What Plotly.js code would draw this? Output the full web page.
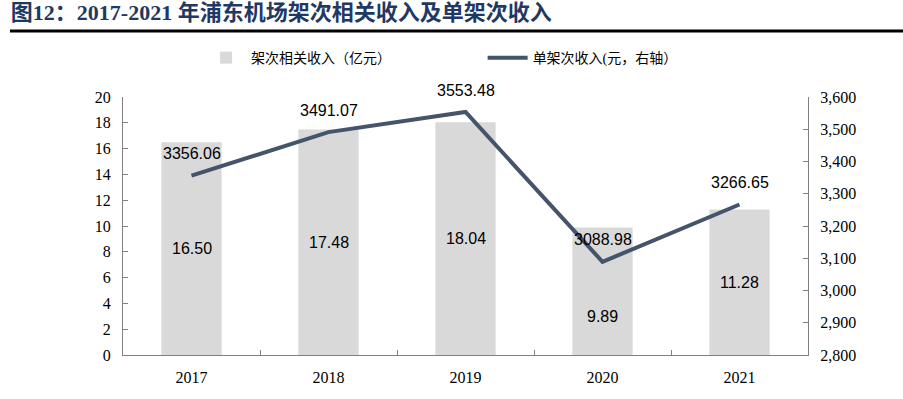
<!DOCTYPE html>
<html>
<head>
<meta charset="utf-8">
<script src="https://cdn.plot.ly/plotly-3.0.1.min.js"></script>
<style>html,body{margin:0;padding:0;background:#fff;}#chart{width:903px;height:399px;}</style>
</head>
<body>
<div id="chart"></div>
<script>
const years = ['2017', '2018', '2019', '2020', '2021'];
const revenue = [16.50, 17.48, 18.04, 9.89, 11.28];
const perFlight = [3356.06, 3491.07, 3553.48, 3088.98, 3266.65];
const barLabelShift = [0, 0, 0, -25, 0];

const serif = '"Liberation Serif", "Times New Roman", serif';
const sans = '"Liberation Sans", Arial, sans-serif';
const cjk = '"Liberation Serif", "Noto Sans CJK SC", serif';

const traces = [
  {
    type: 'bar', x: years, y: revenue, name: '架次相关收入（亿元）',
    marker: {color: '#d9d9d9'}, width: 0.44, yaxis: 'y', legend: 'legend',
    hoverinfo: 'skip'
  },
  {
    type: 'scatter', mode: 'lines', x: years, y: perFlight, name: '单架次收入(元，右轴）',
    line: {color: '#44546a', width: 4}, yaxis: 'y2', legend: 'legend2',
    hoverinfo: 'skip'
  }
];

const annotations = [];
years.forEach((yr, i) => {
  annotations.push({
    x: i, y: revenue[i] / 2, xref: 'x', yref: 'y', text: revenue[i].toFixed(2),
    showarrow: false, yshift: barLabelShift[i], font: {family: sans, size: 16, color: '#000'}
  });
  annotations.push({
    x: i, y: perFlight[i], xref: 'x', yref: 'y2', text: perFlight[i].toFixed(2),
    showarrow: false, yshift: 22, font: {family: sans, size: 16, color: '#000'}
  });
});

const layout = {
  width: 903, height: 399,
  margin: {l: 123, r: 95, t: 97, b: 44},
  paper_bgcolor: '#fff', plot_bgcolor: '#fff',
  font: {family: serif, size: 16, color: '#000'},
  title: {
    text: '<b>图12：2017-2021 年浦东机场架次相关收入及单架次收入</b>',
    font: {family: cjk, size: 22, color: '#1f3864'},
    x: 0.012, xanchor: 'left', xref: 'container', y: 0.968, yanchor: 'middle', yref: 'container'
  },
  xaxis: {
    type: 'category', categoryorder: 'array', categoryarray: years,
    range: [-0.5, years.length - 0.5], autorange: false,
    showgrid: false, zeroline: false, showline: true, linecolor: '#808080',
    ticks: 'inside', ticklen: 5, tickcolor: '#808080', tickson: 'boundaries',
    ticklabelstandoff: 8,
    tickfont: {family: serif, size: 16, color: '#000'}
  },
  yaxis: {
    range: [0, 20], autorange: false, dtick: 2, tick0: 0,
    showgrid: false, zeroline: false, showline: true, linecolor: '#808080',
    ticks: 'inside', ticklen: 5, tickcolor: '#808080', ticksuffix: '\u2002',
    tickfont: {family: serif, size: 16, color: '#000'}
  },
  yaxis2: {
    range: [2800, 3600], autorange: false, dtick: 100, tick0: 2800,
    overlaying: 'y', side: 'right', tickformat: ',d', tickprefix: '\u2002',
    showgrid: false, zeroline: false, showline: true, linecolor: '#808080',
    ticks: 'inside', ticklen: 5, tickcolor: '#808080',
    tickfont: {family: serif, size: 16, color: '#000'}
  },
  legend: {
    x: 0.114, y: 1.151, xanchor: 'left', yanchor: 'middle', orientation: 'h',
    font: {family: cjk, size: 14, color: '#000'}, bgcolor: 'rgba(0,0,0,0)', itemwidth: 40
  },
  legend2: {
    x: 0.525, y: 1.151, xanchor: 'left', yanchor: 'middle', orientation: 'h',
    font: {family: cjk, size: 14, color: '#000'}, bgcolor: 'rgba(0,0,0,0)', itemwidth: 40
  },
  showlegend: true,
  annotations: annotations,
  shapes: [{
    type: 'line', xref: 'paper', yref: 'paper', x0: -0.165, x1: 1.14, y0: 1.256, y1: 1.256,
    line: {color: '#000', width: 3}
  }]
};

Plotly.newPlot('chart', traces, layout, {displayModeBar: false, staticPlot: true});
</script>
</body>
</html>
